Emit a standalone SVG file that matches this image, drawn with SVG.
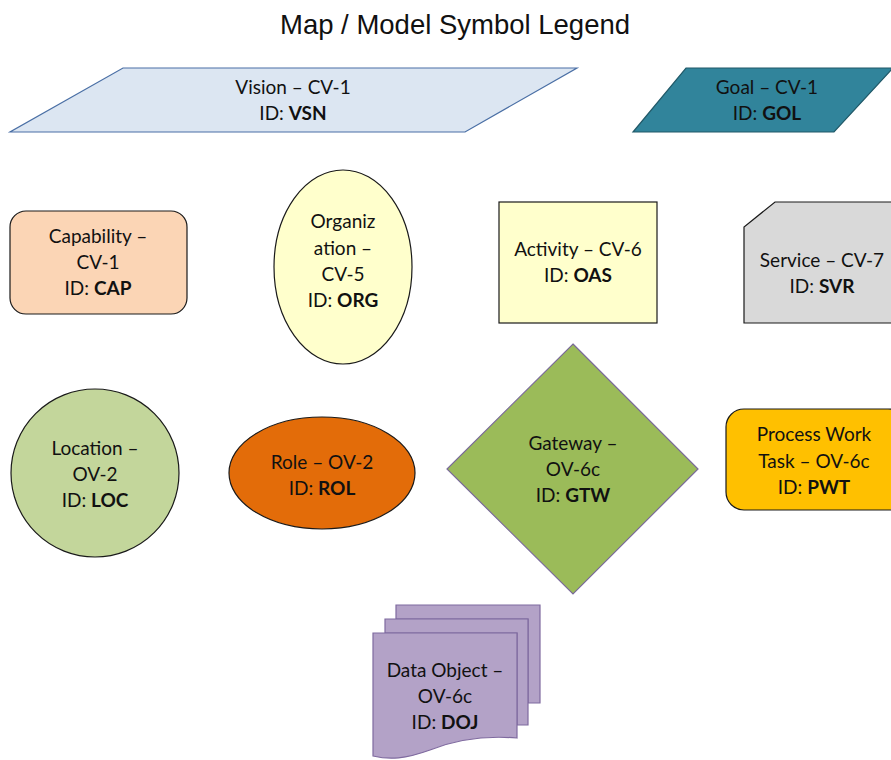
<svg xmlns="http://www.w3.org/2000/svg" width="891" height="760" viewBox="0 0 891 760">
  <style>
    .lbl { font-family: Lato, "Liberation Sans", Arial, sans-serif; font-size: 19px; fill: #111; text-anchor: middle; }
    .lbl tspan.b { font-weight: bold; }
    .title { font-family: "Liberation Sans", Arial, sans-serif; font-size: 27.5px; fill: #111; text-anchor: middle; }
    .edge { stroke: #1a1a1a; stroke-width: 1.2; }
  </style>
  <rect width="891" height="760" fill="#ffffff"/>

  <text class="title" x="455" y="34">Map / Model Symbol Legend</text>

  <g id="vision">
    <polygon points="123,68 577,68 465,132 10,132" fill="#dce6f2" stroke="#4a6fa5" stroke-width="1.2"/>
    <text class="lbl" x="293" y="94">Vision – CV-1</text>
    <text class="lbl" x="293" y="120">ID: <tspan class="b">VSN</tspan></text>
  </g>

  <g id="goal">
    <polygon points="686,68 893,68 834,132 633,132" fill="#31849b" stroke="#215968" stroke-width="1.2"/>
    <text class="lbl" x="767" y="94">Goal – CV-1</text>
    <text class="lbl" x="767" y="120">ID: <tspan class="b">GOL</tspan></text>
  </g>

  <g id="capability">
    <rect x="10" y="211" width="177" height="103" rx="16" fill="#fbd5b5" class="edge"/>
    <text class="lbl" x="98" y="243">Capability –</text>
    <text class="lbl" x="98" y="269">CV-1</text>
    <text class="lbl" x="98" y="295">ID: <tspan class="b">CAP</tspan></text>
  </g>

  <g id="organization">
    <ellipse cx="343" cy="267" rx="69" ry="97" fill="#ffffcc" class="edge"/>
    <text class="lbl" x="343" y="228">Organiz</text>
    <text class="lbl" x="343" y="255">ation –</text>
    <text class="lbl" x="343" y="281">CV-5</text>
    <text class="lbl" x="343" y="307">ID: <tspan class="b">ORG</tspan></text>
  </g>

  <g id="activity">
    <rect x="499" y="202" width="158" height="121" fill="#ffffcc" class="edge"/>
    <text class="lbl" x="578" y="256">Activity – CV-6</text>
    <text class="lbl" x="578" y="282">ID: <tspan class="b">OAS</tspan></text>
  </g>

  <g id="service">
    <polygon points="775,202 893,202 893,323 744,323 744,227" fill="#d9d9d9" class="edge"/>
    <text class="lbl" x="822" y="267">Service – CV-7</text>
    <text class="lbl" x="822" y="293">ID: <tspan class="b">SVR</tspan></text>
  </g>

  <g id="location">
    <circle cx="95" cy="473" r="84" fill="#c3d69b" class="edge"/>
    <text class="lbl" x="95" y="455">Location –</text>
    <text class="lbl" x="95" y="481">OV-2</text>
    <text class="lbl" x="95" y="507">ID: <tspan class="b">LOC</tspan></text>
  </g>

  <g id="role">
    <ellipse cx="322" cy="473" rx="93" ry="56" fill="#e36c09" class="edge"/>
    <text class="lbl" x="322" y="469">Role – OV-2</text>
    <text class="lbl" x="322" y="495">ID: <tspan class="b">ROL</tspan></text>
  </g>

  <g id="gateway">
    <polygon points="573,344 698,469 573,594 447,469" fill="#9bbb59" stroke="#7a6a9a" stroke-width="1.2"/>
    <text class="lbl" x="573" y="450">Gateway –</text>
    <text class="lbl" x="573" y="476">OV-6c</text>
    <text class="lbl" x="573" y="502">ID: <tspan class="b">GTW</tspan></text>
  </g>

  <g id="process-work-task">
    <rect x="726" y="409" width="180" height="101" rx="18" fill="#ffc000" class="edge"/>
    <text class="lbl" x="814" y="441">Process Work</text>
    <text class="lbl" x="814" y="468">Task – OV-6c</text>
    <text class="lbl" x="814" y="494">ID: <tspan class="b">PWT</tspan></text>
  </g>

  <g id="data-object">
    <path d="M396,605 H540 V703 H528 V619 H396 Z" fill="#b3a2c7" stroke="#7f6a9f" stroke-width="1.2"/>
    <path d="M385,619 H528 V725 H517 V633 H385 Z" fill="#b3a2c7" stroke="#7f6a9f" stroke-width="1.2"/>
    <path d="M373,633 H517 V738 C480,735 450,742 430,750 C405,759 390,760 373,756 Z" fill="#b3a2c7" stroke="#7f6a9f" stroke-width="1.2"/>
    <text class="lbl" x="445" y="677">Data Object –</text>
    <text class="lbl" x="445" y="703">OV-6c</text>
    <text class="lbl" x="445" y="729">ID: <tspan class="b">DOJ</tspan></text>
  </g>
</svg>
